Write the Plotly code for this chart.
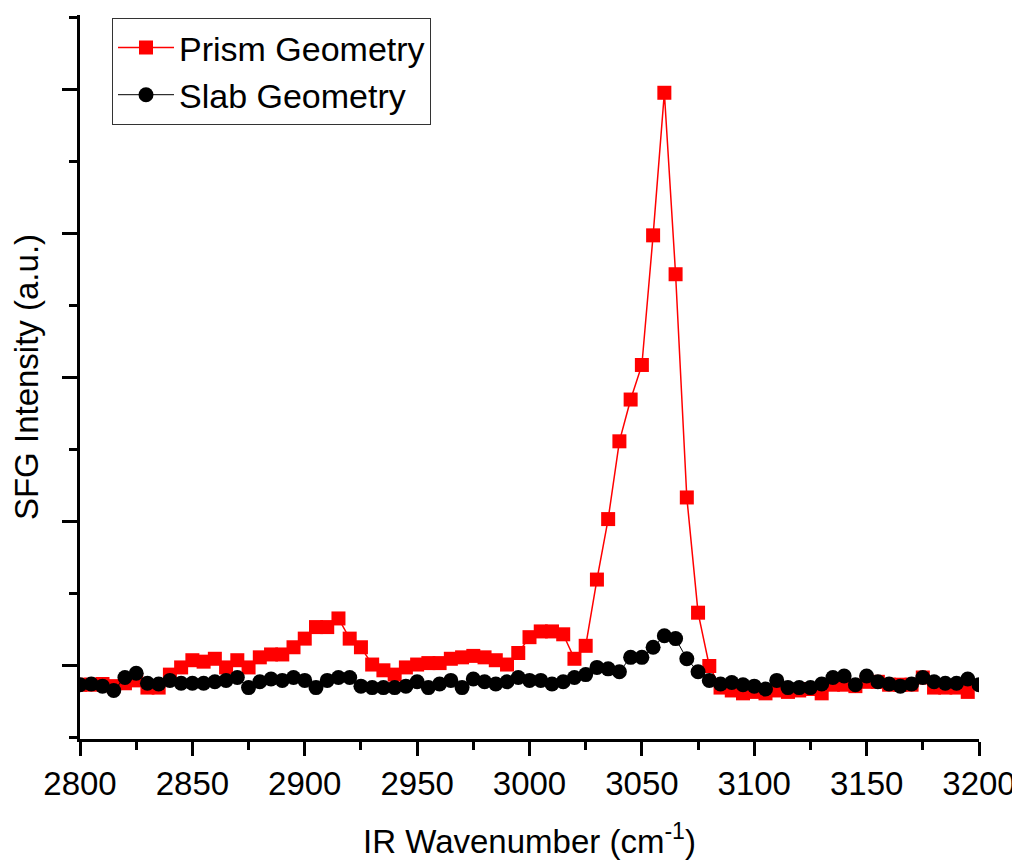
import plotly.graph_objects as go

# IR wavenumbers (cm^-1)
prism_x = list(range(2800, 3200, 5))
slab_x = list(range(2800, 3205, 5))

# SFG intensity (arbitrary units)
prism_y = [
    -0.13, -0.13, -0.125, -0.14, -0.12, -0.10, -0.15, -0.15, -0.06, -0.01,
    0.04, 0.03, 0.05, -0.01, 0.04, -0.01, 0.06, 0.08, 0.08, 0.13,
    0.19, 0.27, 0.27, 0.33, 0.19, 0.13, 0.01, -0.03, -0.06, -0.01,
    0.01, 0.02, 0.02, 0.05, 0.06, 0.07, 0.06, 0.04, 0.01, 0.09,
    0.20, 0.24, 0.24, 0.22, 0.05, 0.14, 0.60, 1.02, 1.56, 1.85,
    2.09, 2.99, 3.98, 2.72, 1.17, 0.37, 0.00, -0.15, -0.17, -0.19,
    -0.18, -0.19, -0.17, -0.18, -0.17, -0.16, -0.19, -0.13, -0.13, -0.14,
    -0.11, -0.11, -0.13, -0.13, -0.13, -0.08, -0.15, -0.15, -0.15, -0.18,
]
slab_y = [
    -0.13, -0.125, -0.14, -0.17, -0.08, -0.05, -0.12, -0.125, -0.10, -0.12,
    -0.12, -0.12, -0.11, -0.10, -0.08, -0.15, -0.11, -0.09, -0.10, -0.08,
    -0.10, -0.15, -0.10, -0.08, -0.08, -0.14, -0.15, -0.15, -0.15, -0.14,
    -0.11, -0.15, -0.125, -0.10, -0.15, -0.09, -0.11, -0.125, -0.11, -0.08,
    -0.10, -0.10, -0.125, -0.11, -0.08, -0.06, -0.01, -0.02, -0.04, 0.06,
    0.06, 0.13, 0.21, 0.19, 0.05, -0.04, -0.10, -0.125, -0.115, -0.13,
    -0.14, -0.16, -0.10, -0.15, -0.15, -0.15, -0.125, -0.08, -0.07, -0.13,
    -0.07, -0.11, -0.125, -0.14, -0.125, -0.08, -0.11, -0.12, -0.12, -0.09,
    -0.13,
]

x_ticks = [2800, 2850, 2900, 2950, 3000, 3050, 3100, 3150, 3200]

FONT = "Liberation Sans, Arial, sans-serif"

fig = go.Figure()
fig.add_trace(go.Scatter(
    x=prism_x, y=prism_y, name="Prism Geometry", mode="lines+markers",
    line=dict(color="#ff0000", width=1.5),
    marker=dict(symbol="square", size=14, color="#ff0000"),
))
fig.add_trace(go.Scatter(
    x=slab_x, y=slab_y, name="Slab Geometry", mode="lines+markers",
    line=dict(color="#000000", width=1),
    marker=dict(symbol="circle", size=15, color="#000000"),
))

# The page body has an 8px margin, so the figure is 8px smaller and the
# left/top margins are 8px smaller to keep the plot area at the same place.
fig.update_layout(
    width=1012, height=853,
    margin=dict(l=72, r=41, t=7, b=122),
    paper_bgcolor="white", plot_bgcolor="white",
    font=dict(family=FONT, size=33, color="black"),
    showlegend=True,
    legend=dict(
        x=0.0356, y=0.996, xanchor="left", yanchor="top",
        bordercolor="#333333", borderwidth=1, bgcolor="white",
        font=dict(family=FONT, size=34, color="black"),
        tracegroupgap=0, itemsizing="trace", itemwidth=56,
    ),
    xaxis=dict(
        range=[2800, 3200], showgrid=False, zeroline=False, automargin=False,
        showline=True, linecolor="black", linewidth=2.5,
        ticks="outside", ticklen=14, tickwidth=2.5, tickcolor="black",
        tickvals=x_ticks, ticktext=[str(v) for v in x_ticks],
        minor=dict(ticks="outside", ticklen=8, tickwidth=2.5, tickcolor="black", dtick=25, tick0=2800),
        tickfont=dict(family=FONT, size=33, color="black"),
        title=dict(text="IR Wavenumber (cm<sup>-1</sup>)", standoff=29,
                   font=dict(family=FONT, size=33, color="black")),
        mirror=False,
    ),
    yaxis=dict(
        range=[-0.507, 4.52], showgrid=False, zeroline=False, automargin=False,
        showline=True, linecolor="black", linewidth=2.5,
        ticks="outside", ticklen=15, tickwidth=2.5, tickcolor="black",
        tick0=0, dtick=1, showticklabels=False,
        minor=dict(ticks="outside", ticklen=8, tickwidth=2.5, tickcolor="black", dtick=0.5, tick0=0),
        title=dict(text="SFG Intensity (a.u.)", standoff=18,
                   font=dict(family=FONT, size=33, color="black")),
        mirror=False,
    ),
)

fig.write_html("out.html")
